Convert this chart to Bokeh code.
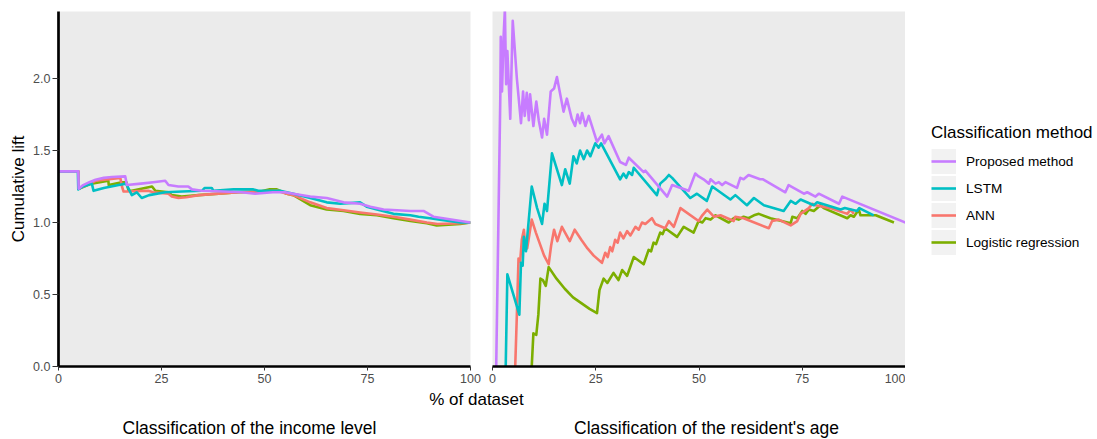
from bokeh.plotting import figure
from bokeh.layouts import column, row
from bokeh.models import Range1d, FixedTicker, Legend, LegendItem, Label
from bokeh.core.properties import value
from bokeh.embed import file_html
from bokeh.resources import INLINE

FONT = "Liberation Sans"

# ---------------- data ----------------
series_names = ["Proposed method", "LSTM", "ANN", "Logistic regression"]
series_colors = ["#C77CFF", "#00BFC4", "#F8766D", "#7CAE00"]

x_ticks = [0, 25, 50, 75, 100]
x_tick_labels = ["0", "25", "50", "75", "100"]
y_ticks = [0.0, 0.5, 1.0, 1.5, 2.0]
y_tick_labels = ["0.0", "0.5", "1.0", "1.5", "2.0"]

y_title = "Cumulative lift"
x_title = "% of dataset"
panel_titles = ["Classification of the income level", "Classification of the resident's age"]
legend_title = "Classification method"

# Panel 1: income level
income_proposed_x = [0, 4.8, 4.9, 6.0, 7.5, 9.0, 11.0, 13.0, 16.2, 16.6, 20.0, 23.0, 25.9, 26.7, 29.1, 31.5, 32.4, 34.8, 40.0, 44.5,
                     47.7, 52.0, 55.0, 57.0, 61.1, 65.1, 69.2, 73.2, 75.7, 78.9, 85.4, 88.6, 91.0, 100]
income_proposed_y = [1.355, 1.355, 1.234, 1.26, 1.28, 1.297, 1.31, 1.316, 1.32, 1.26, 1.27, 1.28, 1.29, 1.26, 1.25, 1.25, 1.23, 1.22, 1.215, 1.21,
                     1.20, 1.21, 1.21, 1.20, 1.18, 1.17, 1.14, 1.13, 1.11, 1.09, 1.08, 1.08, 1.04, 1.0]

income_lstm_x = [0, 4.7, 4.8, 6.0, 8.1, 8.5, 11.0, 14.6, 16.4, 17.8, 19.0, 20.2, 22.0, 25.9, 30.0, 34.8, 35.5, 37.2, 37.6, 42.5,
                 47.3, 48.5, 53.8, 57.0, 61.1, 65.1, 68.4, 73.2, 74.8, 77.3, 81.3, 85.4, 87.4, 90.2, 92.6, 97.5, 100]
income_lstm_y = [1.355, 1.355, 1.23, 1.25, 1.27, 1.22, 1.24, 1.26, 1.27, 1.19, 1.21, 1.17, 1.19, 1.21, 1.215, 1.22, 1.24, 1.24, 1.22, 1.23,
                 1.23, 1.22, 1.22, 1.20, 1.17, 1.14, 1.13, 1.14, 1.11, 1.09, 1.06, 1.05, 1.04, 1.03, 1.02, 1.0, 1.0]

income_ann_x = [0, 4.8, 4.9, 9.0, 15.0, 15.4, 15.8, 16.5, 21.8, 23.0, 26.7, 27.5, 29.1, 31.0, 34.0, 43.7, 49.0, 53.0, 55.4, 57.0,
                61.1, 65.1, 69.2, 73.2, 77.3, 81.3, 85.4, 89.4, 92.0, 97.5, 100]
income_ann_y = [1.355, 1.355, 1.234, 1.29, 1.31, 1.25, 1.215, 1.215, 1.22, 1.21, 1.20, 1.18, 1.17, 1.175, 1.19, 1.21, 1.215, 1.22, 1.20, 1.19,
                1.14, 1.10, 1.085, 1.07, 1.055, 1.04, 1.02, 1.0, 0.99, 0.995, 1.0]

income_logit_x = [0, 4.8, 4.9, 8.0, 12.1, 12.2, 15.4, 16.5, 17.0, 17.8, 22.7, 23.5, 26.7, 27.5, 29.9, 34.0, 43.7, 49.0, 51.3, 53.0,
                  55.4, 57.0, 61.1, 65.1, 69.2, 73.2, 77.3, 81.3, 85.4, 89.4, 91.8, 97.5, 100]
income_logit_y = [1.355, 1.355, 1.234, 1.27, 1.29, 1.26, 1.28, 1.28, 1.22, 1.22, 1.25, 1.22, 1.21, 1.19, 1.18, 1.19, 1.21, 1.215, 1.23, 1.23,
                  1.20, 1.19, 1.12, 1.09, 1.08, 1.06, 1.05, 1.03, 1.01, 0.995, 0.98, 0.99, 1.0]

# Panel 2: resident's age
age_proposed_x = [0.9, 1.9, 2.0, 2.3, 2.7, 3.0, 3.3, 3.6, 4.3, 4.9, 5.9, 6.9, 7.4, 7.8, 8.3, 8.8, 9.1, 9.9, 10.6, 11.2,
                  12.0, 12.5, 13.2, 14.1, 14.9, 15.6, 17.2, 18.0, 19.2, 20.0, 20.6, 21.2, 21.7, 22.5, 23.3, 25.3, 26.5, 27.1, 28.1, 30.9,
                  32.3, 33.0, 36.6, 37.0, 42.3, 43.5, 47.5, 49.1, 49.9, 51.1, 52.4, 52.8, 54.0, 54.8, 55.6, 56.4, 59.2, 60.0, 60.8, 62.0,
                  64.8, 65.5, 70.9, 71.7, 75.4, 76.2, 78.2, 79.0, 83.9, 84.7, 100]
age_proposed_y = [0, 1.89, 2.29, 1.91, 2.30, 2.48, 1.96, 2.19, 1.72, 2.40, 2.00, 1.69, 1.91, 1.74, 1.90, 1.71, 1.89, 1.67, 1.84, 1.71,
                  1.59, 1.72, 1.61, 1.91, 1.93, 2.01, 1.77, 1.86, 1.72, 1.67, 1.75, 1.69, 1.76, 1.67, 1.74, 1.56, 1.61, 1.55, 1.60, 1.42,
                  1.40, 1.45, 1.35, 1.36, 1.18, 1.26, 1.22, 1.34, 1.32, 1.30, 1.27, 1.30, 1.27, 1.28, 1.26, 1.28, 1.24, 1.31, 1.30, 1.33,
                  1.30, 1.30, 1.21, 1.26, 1.20, 1.21, 1.18, 1.20, 1.13, 1.18, 1.00]

age_lstm_x = [3.2, 3.6, 6.5, 6.9, 7.3, 7.6, 8.1, 9.5, 10.8, 12.0, 12.6, 13.2, 14.4, 16.8, 17.6, 18.7, 19.6, 20.4, 21.2, 22.1,
              22.9, 23.7, 24.9, 25.7, 26.3, 30.9, 31.7, 32.4, 33.0, 33.8, 34.2, 39.8, 40.6, 41.8, 42.7, 43.5, 47.9, 49.5, 51.9, 53.2,
              57.6, 58.8, 61.6, 63.3, 65.7, 70.5, 72.2, 73.4, 74.6, 77.8, 78.6, 84.3, 85.3, 88.3, 88.8, 92.3]
age_lstm_y = [0, 0.64, 0.36, 0.72, 0.70, 0.90, 0.80, 1.25, 1.10, 0.99, 1.13, 1.08, 1.48, 1.26, 1.37, 1.27, 1.46, 1.41, 1.50, 1.44,
              1.50, 1.46, 1.55, 1.52, 1.55, 1.30, 1.34, 1.31, 1.35, 1.33, 1.38, 1.19, 1.27, 1.30, 1.33, 1.31, 1.17, 1.20, 1.15, 1.25,
              1.16, 1.19, 1.12, 1.17, 1.12, 1.08, 1.15, 1.13, 1.16, 1.12, 1.14, 1.09, 1.10, 1.08, 1.10, 1.05]

age_ann_x = [5.5, 5.9, 6.3, 6.7, 7.1, 7.6, 7.9, 8.4, 9.5, 10.5, 11.5, 12.5, 13.6, 14.2, 14.9, 15.7, 16.8, 18.7, 19.9, 21.5,
             23.0, 24.5, 26.5, 27.3, 27.9, 28.5, 29.0, 29.7, 30.3, 30.9, 31.7, 32.6, 33.4, 34.6, 35.4, 36.2, 37.0, 38.6, 39.4, 41.8,
             42.7, 43.9, 45.5, 49.9, 50.8, 52.0, 53.6, 55.2, 58.4, 58.8, 60.8, 66.9, 67.7, 69.3, 72.2, 73.8, 74.6, 76.6, 77.4, 78.2,
             81.8, 85.9, 86.7, 87.5]
age_ann_y = [0, 0.36, 0.75, 0.73, 0.88, 0.95, 0.85, 0.82, 1.02, 0.93, 0.85, 0.77, 0.71, 0.84, 0.95, 0.87, 0.97, 0.87, 0.95, 0.88,
             0.82, 0.77, 0.72, 0.79, 0.76, 0.83, 0.80, 0.88, 0.86, 0.93, 0.89, 0.94, 0.91, 0.97, 0.95, 1.00, 0.99, 1.03, 0.99, 0.96,
             1.01, 0.97, 1.10, 1.01, 1.05, 1.09, 1.04, 1.05, 1.01, 1.04, 1.03, 0.96, 1.01, 1.02, 0.98, 1.01, 1.06, 1.10, 1.13, 1.12,
             1.10, 1.06, 1.09, 1.06]

age_logit_x = [9.5, 9.9, 10.6, 11.1, 11.6, 12.2, 12.9, 13.6, 15.5, 17.5, 19.5, 21.5, 23.5, 25.3, 25.9, 26.9, 27.8, 29.3, 30.5, 31.4,
               32.6, 34.2, 36.6, 37.8, 38.4, 39.0, 39.6, 40.6, 41.2, 41.8, 44.7, 46.3, 48.7, 49.9, 50.8, 51.6, 52.8, 54.0, 57.2, 58.4,
               59.6, 60.8, 62.0, 63.3, 64.5, 67.3, 72.2, 72.6, 73.8, 75.0, 75.8, 76.6, 77.8, 79.4, 80.2, 85.9, 86.7, 87.5, 88.7, 89.1,
               92.8, 97.2]
age_logit_y = [0, 0.23, 0.22, 0.36, 0.61, 0.60, 0.56, 0.69, 0.61, 0.54, 0.48, 0.44, 0.40, 0.37, 0.53, 0.61, 0.58, 0.65, 0.60, 0.67,
               0.63, 0.76, 0.71, 0.81, 0.80, 0.86, 0.85, 0.93, 0.92, 0.96, 0.90, 0.97, 0.93, 1.01, 1.00, 1.03, 1.02, 1.05, 1.00, 1.03,
               1.02, 1.04, 1.03, 1.05, 1.06, 1.03, 0.995, 1.04, 1.03, 1.08, 1.06, 1.09, 1.08, 1.12, 1.10, 1.03, 1.05, 1.04, 1.09, 1.05,
               1.05, 1.00]

income_series = [(income_proposed_x, income_proposed_y), (income_lstm_x, income_lstm_y),
                 (income_ann_x, income_ann_y), (income_logit_x, income_logit_y)]
age_series = [(age_proposed_x, age_proposed_y), (age_lstm_x, age_lstm_y),
              (age_ann_x, age_ann_y), (age_logit_x, age_logit_y)]
for xs, ys in income_series + age_series:
    assert len(xs) == len(ys)

# ---------------- layout sizes ----------------
TOP = 11          # frame top
FRAME_H = 355
BOTTOM = 22       # room for x tick labels
PANEL_H = TOP + FRAME_H + BOTTOM   # 388
P1_LEFT, P1_FRAME, P1_RIGHT = 58, 412, 11
P2_LEFT, P2_FRAME = 11, 413
LEG_W = 1097 - (P1_LEFT + P1_FRAME + P1_RIGHT) - (P2_LEFT + P2_FRAME)
STRIP_H = 439 - PANEL_H

y_range = Range1d(0, FRAME_H / 144.0)


def style_xaxis(p):
    ax = p.xaxis[0]
    ax.ticker = FixedTicker(ticks=x_ticks)
    ax.major_label_overrides = {t: l for t, l in zip(x_ticks, x_tick_labels)}
    ax.axis_line_color = "black"
    ax.axis_line_width = 2.7
    ax.major_tick_line_color = "#333333"
    ax.major_tick_line_width = 1
    ax.major_tick_out = 4
    ax.major_tick_in = 0
    ax.minor_tick_line_color = None
    ax.major_label_standoff = 3
    ax.major_label_text_font = FONT
    ax.major_label_text_font_size = "12.5px"
    ax.major_label_text_color = "#4D4D4D"


def make_panel(width, border_left, border_right, show_y):
    p = figure(width=width, height=PANEL_H, x_range=Range1d(0, 100), y_range=y_range,
               output_backend="svg", toolbar_location=None, title=None,
               min_border_left=border_left, min_border_right=border_right,
               min_border_top=TOP, min_border_bottom=BOTTOM,
               background_fill_color="#EBEBEB", border_fill_color="white",
               outline_line_color=None,
               y_axis_location="left" if show_y else None)
    p.grid.visible = False
    style_xaxis(p)
    return p


p1 = make_panel(P1_LEFT + P1_FRAME + P1_RIGHT, P1_LEFT, P1_RIGHT, True)
ya = p1.yaxis[0]
ya.ticker = FixedTicker(ticks=y_ticks)
ya.major_label_overrides = {t: l for t, l in zip(y_ticks, y_tick_labels)}
ya.axis_line_color = "black"
ya.axis_line_width = 2.7
ya.major_tick_line_color = "#333333"
ya.major_tick_out = 6
ya.major_tick_in = 0
ya.minor_tick_line_color = None
ya.major_label_standoff = 2
ya.major_label_text_font = FONT
ya.major_label_text_font_size = "12.5px"
ya.major_label_text_color = "#4D4D4D"
ya.axis_label = y_title
ya.axis_label_text_font = FONT
ya.axis_label_text_font_size = "17px"
ya.axis_label_text_font_style = "normal"
ya.axis_label_text_color = "black"
ya.axis_label_standoff = 2

p2 = make_panel(P2_LEFT + P2_FRAME, P2_LEFT, 0, False)

draw_order = [3, 2, 1, 0]
for i in draw_order:
    xs, ys = income_series[i]
    p1.line(xs, ys, line_color=series_colors[i], line_width=2.6, line_join="round")
    xs, ys = age_series[i]
    p2.line(xs, ys, line_color=series_colors[i], line_width=2.6, line_join="round")

# legend figure (glyphs only used as legend keys, their data lie outside the visible ranges)
p3 = figure(width=LEG_W, height=PANEL_H, x_range=Range1d(0, 1), y_range=Range1d(0, 1),
            x_axis_location=None, y_axis_location=None, output_backend="svg",
            toolbar_location=None, title=None, min_border=0, outline_line_color=None)
p3.grid.visible = False
key_bg = p3.line([-3, -2], [-3, -3], line_color="#F2F2F2", line_width=25)
items = []
for i in range(4):
    r = p3.line([-3, -2], [-3, -3], line_color=series_colors[i], line_width=2.6)
    items.append(LegendItem(label=value(series_names[i]), renderers=[key_bg, r]))
legend = Legend(items=items, title=legend_title, location=(26, PANEL_H - 277),
                title_text_font=FONT, title_text_font_size="17px", title_text_font_style="normal",
                title_text_color="black", title_standoff=5,
                label_text_font=FONT, label_text_font_size="13.6px", label_text_color="black",
                glyph_width=25, glyph_height=26, spacing=1, label_standoff=10,
                padding=0, margin=0, border_line_color=None, background_fill_alpha=0)
p3.add_layout(legend)

# bottom strip with the shared x title and the panel titles
pb = figure(width=1097, height=STRIP_H, x_range=Range1d(0, 1097), y_range=Range1d(0, STRIP_H),
            x_axis_location=None, y_axis_location=None, output_backend="svg",
            toolbar_location=None, title=None, min_border=0, outline_line_color=None)
pb.grid.visible = False
pb.add_layout(Label(x=476, y=40.5, text=x_title, text_align="center",
                    text_baseline="alphabetic", text_font=FONT, text_font_size="17px", text_color="black"))
for tx, t in zip([249, 706], panel_titles):
    pb.add_layout(Label(x=tx, y=11.5, text=t, text_align="center", text_baseline="alphabetic",
                        text_font=FONT, text_font_size="17.5px", text_color="black"))

layout = column(row(p1, p2, p3), pb)
open("out.html", "w").write(file_html(layout, INLINE))
